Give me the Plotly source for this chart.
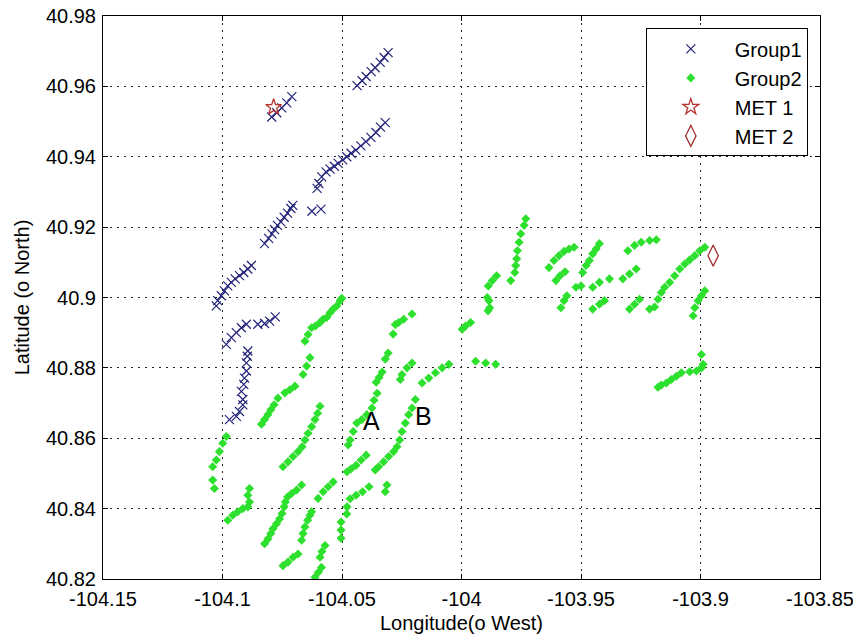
import plotly.graph_objects as go

# ---------------- data ----------------
group1_lon = [
    -104.0437, -104.0416, -104.0399, -104.0378, -104.0361, -104.0340, -104.0324, -104.0307,
    -104.0794, -104.0773, -104.0752, -104.0731, -104.0710,
    -104.0604, -104.0597, -104.0585, -104.0567, -104.0550, -104.0532, -104.0516, -104.0497,
    -104.0480, -104.0462, -104.0442, -104.0421, -104.0400, -104.0379, -104.0358, -104.0339, -104.0319,
    -104.0626, -104.0588,
    -104.0824, -104.0807, -104.0793, -104.0782, -104.0770, -104.0756, -104.0742, -104.0728, -104.0714, -104.0706,
    -104.1026, -104.1020, -104.1005, -104.0992, -104.0978, -104.0963, -104.0947, -104.0929, -104.0911, -104.0894, -104.0879,
    -104.0984, -104.0963, -104.0942, -104.0921, -104.0900, -104.0852, -104.0824, -104.0803, -104.0779,
    -104.0894, -104.0896, -104.0900, -104.0900, -104.0908, -104.0911, -104.0921, -104.0915, -104.0915, -104.0929, -104.0942, -104.0971,
]
group1_lat = [
    40.9602, 40.9616, 40.9628, 40.9642, 40.9653, 40.9668, 40.9682, 40.9696,
    40.9513, 40.9525, 40.9539, 40.9553, 40.9571,
    40.9310, 40.9324, 40.9343, 40.9357, 40.9365, 40.9373, 40.9381, 40.9391,
    40.9400, 40.9410, 40.9419, 40.9431, 40.9443, 40.9455, 40.9469, 40.9484, 40.9497,
    40.9245, 40.9251,
    40.9153, 40.9168, 40.9181, 40.9193, 40.9205, 40.9215, 40.9228, 40.9240, 40.9253, 40.9262,
    40.8976, 40.8991, 40.9005, 40.9019, 40.9033, 40.9043, 40.9053, 40.9062, 40.9071, 40.9081, 40.9091,
    40.8867, 40.8886, 40.8900, 40.8914, 40.8924, 40.8924, 40.8926, 40.8933, 40.8945,
    40.8848, 40.8833, 40.8814, 40.8791, 40.8771, 40.8753, 40.8733, 40.8710, 40.8695, 40.8676, 40.8662, 40.8653,
]

group2_lon = [
    -104.0655, -104.0642, -104.0627, -104.0611, -104.0592, -104.0579, -104.0564, -104.0550, -104.0537, -104.0522, -104.0508, -104.0501,
    -104.0634, -104.0648, -104.0663,
    -104.0837, -104.0824, -104.0810, -104.0798, -104.0784, -104.0768, -104.0739, -104.0718, -104.0697,
    -104.0984, -104.0999, -104.1013, -104.1026, -104.1041, -104.1041, -104.1034,
    -104.0747, -104.0726, -104.0705, -104.0684, -104.0667, -104.0655, -104.0642, -104.0627, -104.0613, -104.0602, -104.0592,
    -104.0978, -104.0957, -104.0936, -104.0915, -104.0894, -104.0887, -104.0894, -104.0887,
    -104.0824, -104.0810, -104.0798, -104.0789, -104.0774, -104.0761, -104.0751, -104.0742, -104.0737, -104.0728, -104.0711, -104.0690, -104.0669,
    -104.0747, -104.0726, -104.0705, -104.0684,
    -104.0669, -104.0663, -104.0655, -104.0644, -104.0634, -104.0627,
    -104.0600, -104.0579, -104.0558, -104.0537,
    -104.0613, -104.0599, -104.0586, -104.0592, -104.0584, -104.0571,
    -104.0504, -104.0504, -104.0504,
    -104.0480, -104.0479, -104.0466, -104.0441, -104.0414, -104.0387,
    -104.0312, -104.0319,
    -104.0479, -104.0462, -104.0441, -104.0420, -104.0399,
    -104.0361, -104.0347, -104.0326, -104.0305, -104.0284, -104.0270, -104.0259, -104.0249, -104.0235, -104.0221, -104.0207, -104.0193,
    -104.0474, -104.0466, -104.0453, -104.0438, -104.0417, -104.0396, -104.0375, -104.0366, -104.0353, -104.0357,
    -104.0345, -104.0332, -104.0319, -104.0307, -104.0286, -104.0277, -104.0263, -104.0242, -104.0207,
    -104.0256, -104.0249, -104.0228, -104.0207,
    -104.0165, -104.0137, -104.0109, -104.0081, -104.0053,
    -103.9997, -103.9983, -103.9962,
    -103.9941, -103.9899, -103.9857,
    -103.9853, -103.9871, -103.9888, -103.9892, -103.9885, -103.9882, -103.9889,
    -103.9731, -103.9738, -103.9752, -103.9759, -103.9766, -103.9769, -103.9773, -103.9777, -103.9794,
    -103.9634, -103.9613, -103.9592, -103.9571, -103.9550, -103.9529,
    -103.9605, -103.9588, -103.9567,
    -103.9584, -103.9571, -103.9559,
    -103.9521, -103.9500,
    -103.9493, -103.9479, -103.9465, -103.9451, -103.9437, -103.9423,
    -103.9451, -103.9423, -103.9381,
    -103.9451, -103.9423, -103.9402,
    -103.9304, -103.9276, -103.9248, -103.9213, -103.9185,
    -103.9325, -103.9297, -103.9269,
    -103.9297, -103.9276, -103.9255,
    -103.9213, -103.9192, -103.9178, -103.9164, -103.9150, -103.9129, -103.9108, -103.9087, -103.9066, -103.9045, -103.9024, -103.9003, -103.8982,
    -103.9031, -103.9024, -103.9010, -103.8996, -103.8982,
    -103.8996, -103.8989, -103.8996, -103.9017, -103.9045, -103.9080, -103.9101, -103.9122, -103.9143, -103.9164, -103.9178,
]
group2_lat = [
    40.8876, 40.8895, 40.8914, 40.8919, 40.8929, 40.8938, 40.8943, 40.8957, 40.8967, 40.8976, 40.8991, 40.8998,
    40.8829, 40.8805, 40.8781,
    40.8640, 40.8653, 40.8667, 40.8681, 40.8695, 40.8714, 40.8729, 40.8738, 40.8748,
    40.8605, 40.8586, 40.8562, 40.8538, 40.8519, 40.8481, 40.8457,
    40.8519, 40.8533, 40.8548, 40.8562, 40.8576, 40.8595, 40.8614, 40.8633, 40.8653, 40.8671, 40.8691,
    40.8367, 40.8381, 40.8391, 40.8400, 40.8405, 40.8419, 40.8438, 40.8457,
    40.8300, 40.8314, 40.8329, 40.8343, 40.8357, 40.8371, 40.8386, 40.8405, 40.8419, 40.8433, 40.8443, 40.8453, 40.8467,
    40.8238, 40.8248, 40.8262, 40.8271,
    40.8310, 40.8329, 40.8348, 40.8367, 40.8381, 40.8391,
    40.8429, 40.8448, 40.8462, 40.8476,
    40.8205, 40.8219, 40.8233, 40.8262, 40.8278, 40.8295,
    40.8362, 40.8339, 40.8316,
    40.8385, 40.8405, 40.8428, 40.8438, 40.8448, 40.8462,
    40.8467, 40.8448,
    40.8505, 40.8513, 40.8523, 40.8538, 40.8552,
    40.8510, 40.8519, 40.8533, 40.8548, 40.8562, 40.8576, 40.8595, 40.8619, 40.8643, 40.8667, 40.8686, 40.8710,
    40.8581, 40.8595, 40.8619, 40.8643, 40.8653, 40.8667, 40.8686, 40.8708, 40.8728, 40.8759,
    40.8773, 40.8788, 40.8825, 40.8842, 40.8896, 40.8923, 40.8929, 40.8938, 40.8953,
    40.8767, 40.8781, 40.8800, 40.8814,
    40.8757, 40.8771, 40.8786, 40.8800, 40.8810,
    40.8910, 40.8919, 40.8929,
    40.8819, 40.8814, 40.8810,
    40.9062, 40.9048, 40.9033, 40.9000, 40.8991, 40.8971, 40.8962,
    40.9224, 40.9205, 40.9181, 40.9157, 40.9133, 40.9110, 40.9091, 40.9071, 40.9048,
    40.9085, 40.9105, 40.9119, 40.9131, 40.9138, 40.9143,
    40.9048, 40.9062, 40.9073,
    40.8971, 40.8991, 40.9005,
    40.9029, 40.9033,
    40.9071, 40.9091, 40.9105, 40.9124, 40.9138, 40.9153,
    40.9029, 40.9043, 40.9053,
    40.8967, 40.8981, 40.8991,
    40.9133, 40.9148, 40.9157, 40.9162, 40.9164,
    40.9053, 40.9067, 40.9081,
    40.8967, 40.8981, 40.8995,
    40.8967, 40.8973, 40.8995, 40.9014, 40.9029, 40.9043, 40.9062, 40.9081, 40.9095, 40.9107, 40.9119, 40.9133, 40.9143,
    40.8948, 40.8971, 40.8991, 40.9005, 40.9019,
    40.8838, 40.8810, 40.8800, 40.8791, 40.8789, 40.8786, 40.8776, 40.8767, 40.8757, 40.8751, 40.8745,
]

met1_lon = [-104.0786]
met1_lat = [40.9541]
met2_lon = [-103.8947]
met2_lat = [40.9119]

label_text = ["A", "B"]
label_lon = [-104.0378, -104.0158]
label_lat = [40.8648, 40.8662]

x_ticks = [-104.15, -104.10, -104.05, -104.00, -103.95, -103.90, -103.85]
x_ticktext = ["-104.15", "-104.1", "-104.05", "-104", "-103.95", "-103.9", "-103.85"]
y_ticks = [40.82, 40.84, 40.86, 40.88, 40.90, 40.92, 40.94, 40.96, 40.98]
y_ticktext = ["40.82", "40.84", "40.86", "40.88", "40.9", "40.92", "40.94", "40.96", "40.98"]

# ---------------- figure ----------------
FONT = "Liberation Sans, Arial, sans-serif"

fig = go.Figure()
fig.add_trace(go.Scatter(
    x=group1_lon, y=group1_lat, mode="markers", name="Group1",
    marker=dict(symbol="x-thin-open", size=9, line=dict(color="#23237a", width=1.2), color="#23237a"),
))
fig.add_trace(go.Scatter(
    x=group2_lon, y=group2_lat, mode="markers", name="Group2",
    marker=dict(symbol="diamond", size=7, color="#2ee02e", line=dict(width=0)),
))
fig.add_trace(go.Scatter(
    x=met1_lon, y=met1_lat, mode="markers", name="MET 1",
    marker=dict(symbol="star-open", size=12, color="#b8322e", line=dict(width=1.3)),
))
fig.add_trace(go.Scatter(
    x=met2_lon, y=met2_lat, mode="markers", name="MET 2",
    marker=dict(symbol="diamond-tall-open", size=15, color="#a02828", line=dict(width=1.2)),
))

for t, lx, ly in zip(label_text, label_lon, label_lat):
    fig.add_annotation(x=lx, y=ly, text=t, showarrow=False,
                       font=dict(family=FONT, size=25, color="black"))

axis_common = dict(
    showgrid=True, gridcolor="#222222", gridwidth=1, griddash="2px,5px",
    showline=True, linecolor="black", linewidth=1, mirror="allticks",
    ticks="inside", ticklen=5, tickcolor="black", zeroline=False,
    tickfont=dict(family=FONT, size=20, color="black"),
    ticklabeloverflow="allow", automargin=False,
)

fig.update_layout(
    width=853, height=639,
    margin=dict(l=103, r=33, t=16, b=60),
    paper_bgcolor="white", plot_bgcolor="white",
    showlegend=True,
    legend=dict(
        x=0.983, xanchor="right", y=0.978, yanchor="top",
        bgcolor="white", bordercolor="black", borderwidth=1,
        font=dict(family=FONT, size=20, color="black"),
        traceorder="normal", itemwidth=78,
    ),
    xaxis=dict(
        range=[-104.15, -103.85], tickvals=x_ticks, ticktext=x_ticktext,
        ticklabelstandoff=2,
        title=dict(text="Longitude(o West)", font=dict(family=FONT, size=20, color="black"), standoff=6),
        **axis_common,
    ),
    yaxis=dict(
        range=[40.82, 40.98], tickvals=y_ticks, ticktext=y_ticktext,
        ticklabelstandoff=2,
        title=dict(text="Latitude (o North)", font=dict(family=FONT, size=20, color="black"), standoff=10),
        **axis_common,
    ),
)

fig.write_html("out.html")
